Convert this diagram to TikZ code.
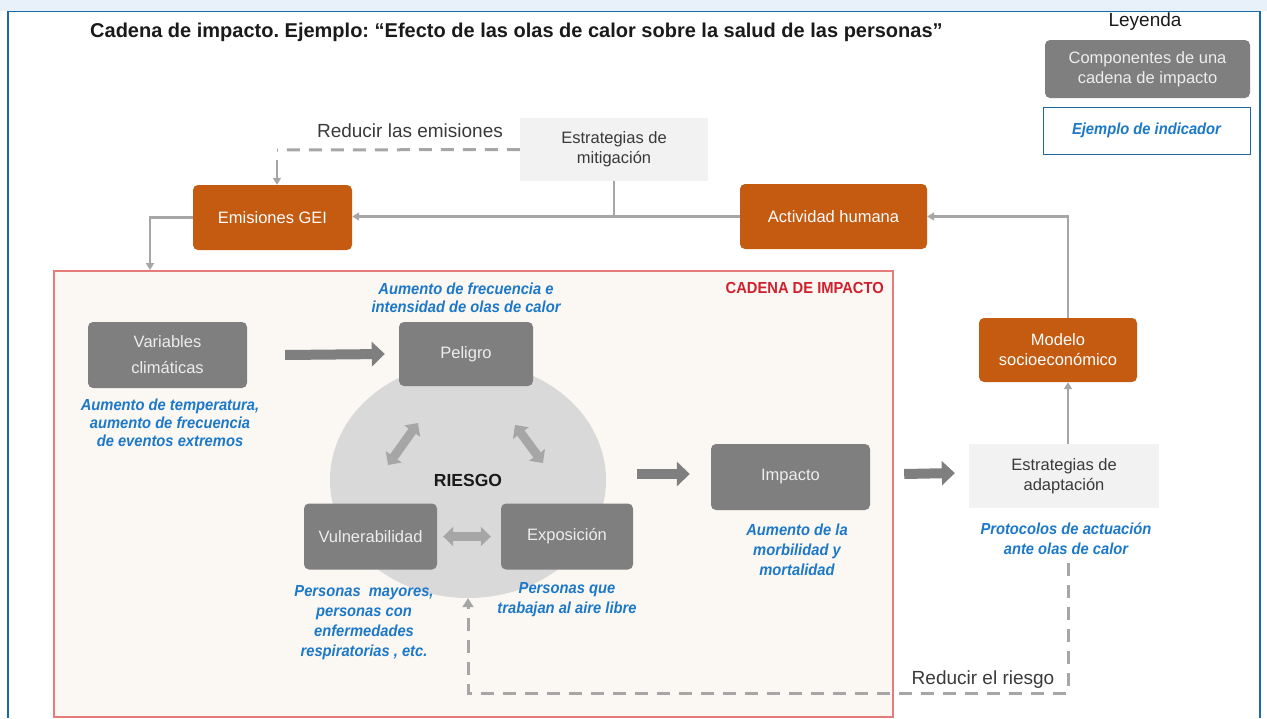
\documentclass[tikz,border=0pt]{standalone}
\usepackage{fontspec}
\setmainfont{Liberation Sans}
\newfontfamily\indfont[FakeStretch=0.92]{Liberation Sans}
\usetikzlibrary{arrows.meta,shapes.geometric}
\frenchspacing

\definecolor{cOrange}{HTML}{C55A11}
\definecolor{cGray}{HTML}{7F7F7F}
\definecolor{cGrayText}{HTML}{EDEDED}
\definecolor{cLight}{HTML}{F2F2F2}
\definecolor{cDark}{HTML}{3A3A3A}
\definecolor{cBlue}{HTML}{1C78C8}
\definecolor{cLine}{HTML}{A6A6A6}
\definecolor{cRiesgo}{HTML}{D9D9D9}
\definecolor{cRedFill}{HTML}{FBF7F3}
\definecolor{cRedLine}{HTML}{E57C7C}
\definecolor{cRedText}{HTML}{D0202E}
\definecolor{cFrame}{HTML}{1A6AAA}
\definecolor{cBand}{HTML}{E8F0FA}
\definecolor{cTitle}{HTML}{1A1A1A}

\newcommand{\bxfont}{\fontsize{16.5}{20}\selectfont}
\newcommand{\indsize}{\indfont\bfseries\itshape\fontsize{16}{20}\selectfont}

\begin{document}
\begin{tikzpicture}[x=1pt,y=-1pt,
  box/.style={rectangle, inner sep=0pt, align=center, font=\bxfont},
  orangebox/.style={box, rounded corners=5pt, fill=cOrange, text=white},
  graybox/.style={box, rounded corners=5pt, fill=cGray, text=cGrayText},
  stratbox/.style={box, fill=cLight, text=cDark},
  indicator/.style={text=cBlue, font=\indsize, align=center, inner sep=0pt},
  plain/.style={text=cDark, inner sep=0pt},
  conn/.style={draw=cLine, line width=2.2pt},
  tip/.style={-{Triangle[length=7pt,width=8pt]}},
  dashline/.style={draw=cLine, line width=3pt, dash pattern=on 13pt off 9pt},
  fatarrow/.style={draw=cGray, line width=10pt, -{Triangle[length=13pt,width=24pt]}},
  dblarrow/.style={draw=cLine, line width=9pt, {Triangle[length=10pt,width=19pt]}-{Triangle[length=10pt,width=19pt]}}
]
\useasboundingbox (0,0) rectangle (1267,718);

% page frame
\fill[cBand] (0,0) rectangle (1267,11);
\draw[cFrame, line width=1.5pt] (8,718) -- (8,11.5) -- (1260,11.5) -- (1260,718);

% title and legend
\node[anchor=west, text=cTitle, font=\bfseries\fontsize{20}{22}\selectfont, inner sep=0pt] (title) at (90,32)
  {Cadena de impacto. Ejemplo: “Efecto de las olas de calor sobre la salud de las personas”};
\node[plain, text=cTitle, font=\fontsize{19}{22}\selectfont] (leyenda) at (1145,22) {Leyenda};
\node[graybox, minimum width=205pt, minimum height=58pt] (legcomp) at (1147.5,69) {Componentes de una\\cadena de impacto};
\node[box, draw=cFrame, line width=1pt, fill=white, minimum width=207pt, minimum height=47pt, font=\indsize, text=cBlue] (legind) at (1146.5,130.5) {Ejemplo de indicador};

% impact chain frame
\node[draw=cRedLine, line width=1.5pt, fill=cRedFill, minimum width=839pt, minimum height=446pt, inner sep=0pt, anchor=north west] (cadena) at (53,270) {};
\node[anchor=east, text=cRedText, font=\indfont\bfseries\fontsize{16}{18}\selectfont, inner sep=0pt] (cadlabel) at (884,288) {CADENA DE IMPACTO};

% risk area
\node[ellipse, fill=cRiesgo, minimum width=276pt, minimum height=236pt, inner sep=0pt,
      font=\bfseries\fontsize{17.5}{20}\selectfont, text=cTitle] (riesgo) at (468,480) {RIESGO};

% upper drivers
\node[stratbox, minimum width=188pt, minimum height=63pt] (mit) at (614,149.5) {Estrategias de\\mitigación};
\node[orangebox, minimum width=159pt, minimum height=65pt] (emi) at (272.5,217.5) {Emisiones GEI};
\node[orangebox, minimum width=187pt, minimum height=65pt] (act) at (833.5,216.5) {Actividad humana};
\node[orangebox, minimum width=158pt, minimum height=64pt] (mod) at (1058,350) {Modelo\\socioeconómico};
\node[plain, font=\fontsize{19}{22}\selectfont] (redem) at (410,131) {Reducir las emisiones};

% chain components
\node[graybox, minimum width=159pt, minimum height=66pt, font=\fontsize{16.5}{26}\selectfont] (var) at (167.5,355) {Variables\\climáticas};
\node[graybox, minimum width=134pt, minimum height=64pt] (pel) at (466,354) {Peligro};
\node[graybox, minimum width=133pt, minimum height=66pt] (vul) at (370.5,536.5) {Vulnerabilidad};
\node[graybox, minimum width=132pt, minimum height=66pt] (exp) at (567,536.5) {Exposición};
\node[graybox, minimum width=159pt, minimum height=66pt] (imp) at (790.5,477) {Impacto};
\node[stratbox, minimum width=190pt, minimum height=64pt] (ada) at (1064,476) {Estrategias de\\adaptación};

% indicators
\node[indicator, font=\indfont\bfseries\itshape\fontsize{16}{18}\selectfont] (pelind) at (466,298) {Aumento de frecuencia e\\intensidad de olas de calor};
\node[indicator, font=\indfont\bfseries\itshape\fontsize{16}{18}\selectfont] (varind) at (170,423) {Aumento de temperatura,\\aumento de frecuencia\\de eventos extremos};
\node[indicator] (vulind) at (364,622.5) {Personas~ mayores,\\personas con\\enfermedades\\respiratorias , etc.};
\node[indicator] (expind) at (567,599.5) {Personas que\\trabajan al aire libre};
\node[indicator] (impind) at (797,550) {Aumento de la\\morbilidad y\\mortalidad};
\node[indicator] (adaind) at (1066,539) {Protocolos de actuación\\ante olas de calor};

\node[plain, font=\fontsize{19}{22}\selectfont] (redri) at (983,680) {Reducir el riesgo};

% routing points
\coordinate (vx) at (1068,0);
\coordinate (redin) at (150,270);
\coordinate (dm) at (277,150);
\coordinate (rr) at (1068,563);
\coordinate (ry) at (0,693);

% thin connectors
\draw[conn, tip] (act.west) -- (act.west -| emi.east);
\draw[conn] (mit.south) -- (mit.south |- act.west);
\draw[conn, tip] (emi.west) -| (redin);
\draw[conn, tip] (mod.north -| vx) |- (act.east);
\draw[conn, tip] (ada.north -| vx) -- (mod.south -| vx);
\draw[dashline] (mit.west) -- (dm);
\draw[conn, tip] ([yshift=-10pt]dm) -- (emi.north -| dm);
\draw[dashline, -{Triangle[length=9pt,width=11pt]}] (rr) -- (rr |- ry) -| (riesgo.south);

% block arrows
\draw[fatarrow] ([xshift=38pt]var.east) -- ([xshift=-14pt]pel.west);
\draw[fatarrow] ([xshift=-74pt,yshift=3pt]imp.west) -- ([xshift=-21pt,yshift=3pt]imp.west);
\draw[fatarrow] ([xshift=34pt,yshift=3pt]imp.east) -- ([xshift=-14pt,yshift=3pt]ada.west);
\draw[dblarrow] ([xshift=6pt]vul.east) -- ([xshift=-10pt]exp.west);
\draw[dblarrow] (418,423) -- (388,465);
\draw[dblarrow] (515,425) -- (543,463);
\end{tikzpicture}
\end{document}
